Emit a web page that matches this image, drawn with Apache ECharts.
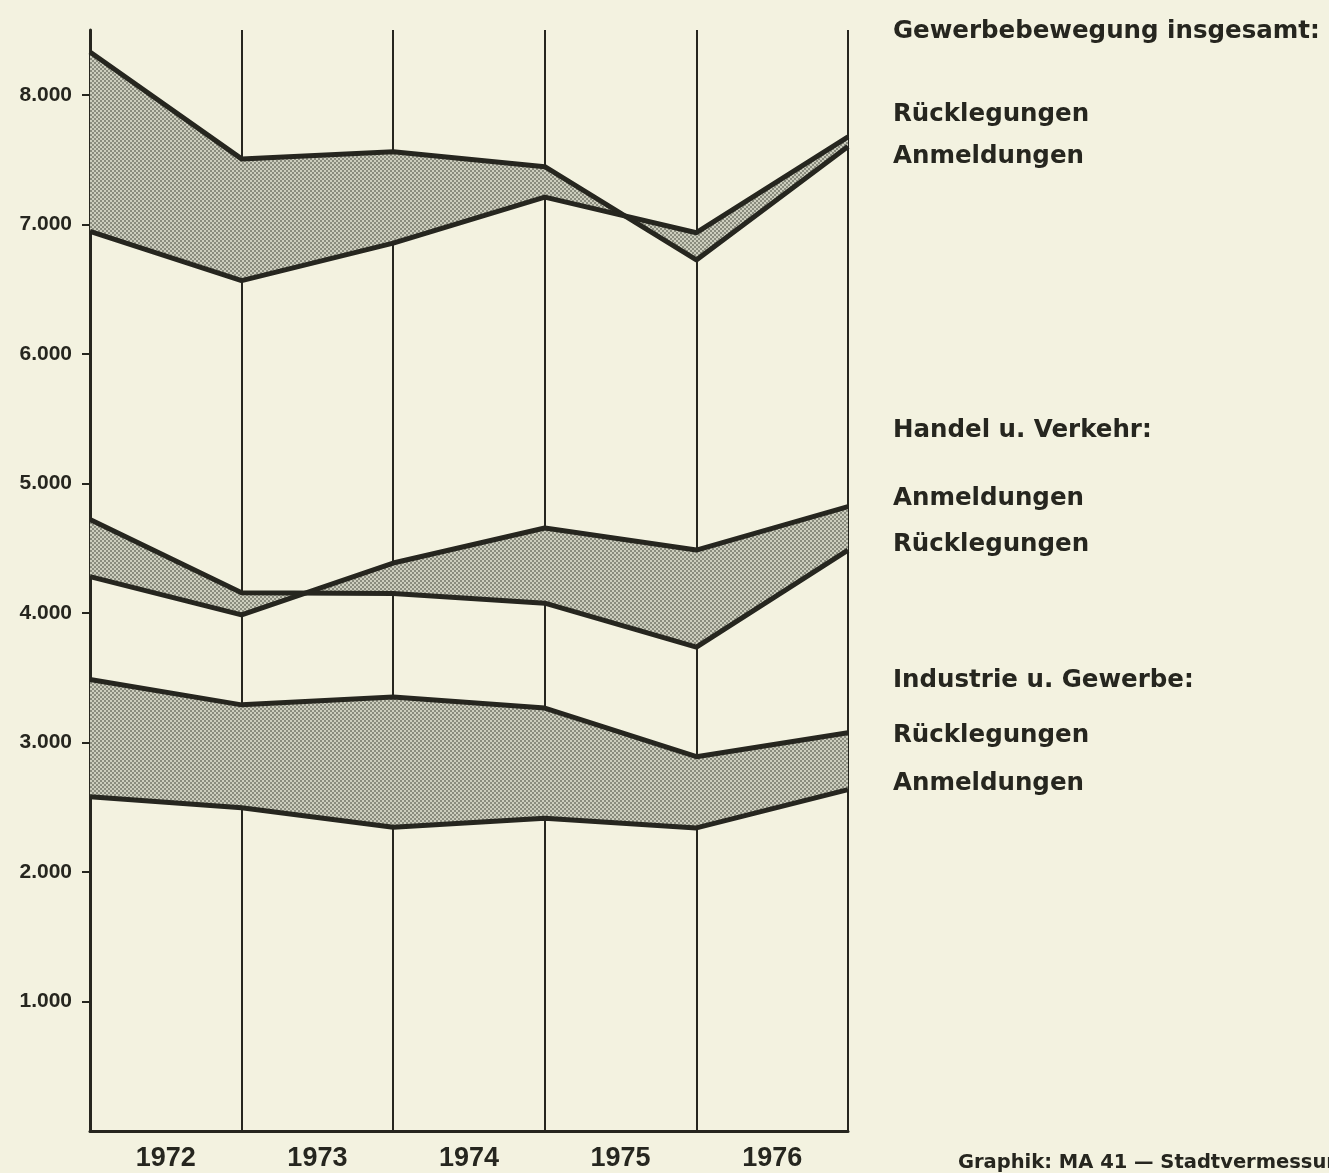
<!DOCTYPE html>
<html>
<head>
<meta charset="utf-8">
<title>Gewerbebewegung 1972-1976</title>
<script src="https://cdn.jsdelivr.net/npm/echarts@6/dist/echarts.min.js"></script>
<style>
    html, body { margin: 0; padding: 0; background: #f3f2e0; }
    #chart { width: 1329px; height: 1173px; }
</style>
</head>
<body>
<div id="chart"></div>
<script>
// Jahre (Beschriftung unter den Feldern)
var jahre = ['1972', '1973', '1974', '1975', '1976'];
// Messpunkte auf den senkrechten Linien
var punkte = ['P0', 'P1', 'P2', 'P3', 'P4', 'P5'];

// Gewerbebewegung insgesamt
var gesamtRuecklegungen = [8330, 7505, 7560, 7445, 6725, 7600];
var gesamtAnmeldungen   = [6945, 6565, 6855, 7210, 6935, 7675];

// Handel u. Verkehr
var handelRuecklegungen = [4720, 4155, 4150, 4075, 3735, 4485];
var handelAnmeldungen   = [4280, 3985, 4385, 4655, 4485, 4820];

// Industrie u. Gewerbe
var industrieRuecklegungen = [3485, 3290, 3350, 3265, 2890, 3075];
var industrieAnmeldungen   = [2580, 2495, 2345, 2415, 2340, 2635];

var yTicks = [1000, 2000, 3000, 4000, 5000, 6000, 7000, 8000];

var INK = '#26261f';

// Raster fuer die schraffierten Flaechen
function makePattern() {
    var c = document.createElement('canvas');
    c.width = 4;
    c.height = 4;
    var ctx = c.getContext('2d');
    ctx.fillStyle = '#cdcebe';
    ctx.fillRect(0, 0, 4, 4);
    ctx.fillStyle = '#8a8c7e';
    ctx.fillRect(0, 0, 2, 2);
    ctx.fillRect(2, 2, 2, 2);
    return c;
}
var raster = makePattern();

// unterer Linienzug + Differenz gestapelt, damit die Flaeche dazwischen gefuellt wird
function band(name, stack, untere, obere) {
    var diff = obere.map(function (v, i) { return v - untere[i]; });
    return [
        {
            name: name + ' (unten)',
            type: 'line',
            stack: stack,
            stackStrategy: 'all',
            data: untere,
            symbol: 'none',
            z: 4,
            lineStyle: { color: INK, width: 5, join: 'round' }
        },
        {
            name: name + ' (oben)',
            type: 'line',
            stack: stack,
            stackStrategy: 'all',
            data: diff,
            symbol: 'none',
            z: 3,
            lineStyle: { color: INK, width: 5, join: 'round' },
            areaStyle: { color: { image: raster, repeat: 'repeat' }, opacity: 1 }
        }
    ];
}

var legendFont = 'bold 24.5px "DejaVu Sans", sans-serif';
function label(text, y) {
    return {
        type: 'text',
        left: 893,
        top: y - 11,
        style: { text: text, font: legendFont, fill: INK }
    };
}

var series = []
    .concat(band('Gewerbebewegung insgesamt', 'gesamt', gesamtAnmeldungen, gesamtRuecklegungen))
    .concat(band('Handel u. Verkehr', 'handel', handelRuecklegungen, handelAnmeldungen))
    .concat(band('Industrie u. Gewerbe', 'industrie', industrieAnmeldungen, industrieRuecklegungen));

var option = {
    backgroundColor: '#f3f2e0',
    animation: false,
    grid: { left: 90, right: 481, top: 30, bottom: 42, containLabel: false },
    xAxis: [
        {
            type: 'category',
            data: punkte,
            boundaryGap: false,
            axisLine: { show: true, onZero: false, lineStyle: { color: INK, width: 3 } },
            axisTick: { show: false },
            axisLabel: { show: false },
            splitLine: { show: true, interval: 0, lineStyle: { color: INK, width: 2 } }
        },
        {
            type: 'category',
            position: 'bottom',
            data: jahre,
            boundaryGap: true,
            axisLine: { show: false },
            axisTick: { show: false },
            axisLabel: {
                margin: 14,
                color: INK,
                fontFamily: '"Liberation Sans", Arial, sans-serif',
                fontWeight: 'bold',
                fontSize: 27
            }
        }
    ],
    yAxis: {
        type: 'value',
        min: 0,
        max: 8500,
        interval: 1000,
        axisLine: { show: true, lineStyle: { color: INK, width: 3 } },
        axisTick: { show: true, length: 8, customValues: yTicks, lineStyle: { color: INK, width: 2 } },
        axisLabel: {
            customValues: yTicks,
            margin: 18,
            color: INK,
            fontFamily: '"Liberation Sans", Arial, sans-serif',
            fontWeight: 'bold',
            fontSize: 21,
            formatter: function (v) { return Math.floor(v / 1000) + '.000'; }
        },
        splitLine: { show: false }
    },
    graphic: [
        label('Gewerbebewegung insgesamt:', 30),
        label('Rücklegungen', 113),
        label('Anmeldungen', 155),
        label('Handel u. Verkehr:', 429),
        label('Anmeldungen', 497),
        label('Rücklegungen', 543),
        label('Industrie u. Gewerbe:', 679),
        label('Rücklegungen', 734),
        label('Anmeldungen', 782),
        {
            type: 'text',
            left: 958,
            top: 1153,
            style: {
                text: 'Graphik: MA 41 — Stadtvermessung',
                font: 'bold 19.5px "DejaVu Sans", sans-serif',
                fill: INK
            }
        }
    ],
    series: series
};

var chart = echarts.init(document.getElementById('chart'));
chart.setOption(option);
</script>
</body>
</html>
